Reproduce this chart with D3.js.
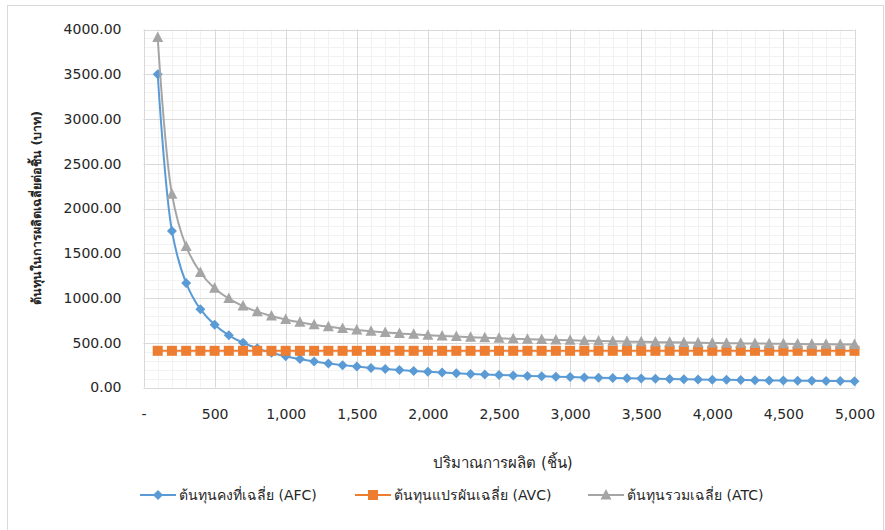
<!DOCTYPE html>
<html><head><meta charset="utf-8">
<script src="https://cdn.jsdelivr.net/npm/d3@7"></script>
<style>body{margin:0;background:#fff}svg{display:block}text{font-family:"DejaVu Sans","Noto Sans",sans-serif;fill:#262626}</style>
</head><body><svg id="c" width="885" height="530"></svg>
<script>
const quantities = [100,200,300,400,500,600,700,800,900,1000,1100,1200,1300,1400,1500,1600,1700,1800,1900,2000,2100,2200,2300,2400,2500,2600,2700,2800,2900,3000,3100,3200,3300,3400,3500,3600,3700,3800,3900,4000,4100,4200,4300,4400,4500,4600,4700,4800,4900,5000];
const afc = [3500,1750,1166.67,875,700,583.33,500,437.5,388.89,350,318.18,291.67,269.23,250,233.33,218.75,205.88,194.44,184.21,175,166.67,159.09,152.17,145.83,140,134.62,129.63,125,120.69,116.67,112.90,109.38,106.06,102.94,100,97.22,94.59,92.11,89.74,87.5,85.37,83.33,81.40,79.55,77.78,76.09,74.47,72.92,71.43,70];
const avc = [410,410,410,410,410,410,410,410,410,410,410,410,410,410,410,410,410,410,410,410,410,410,410,410,410,410,410,410,410,410,410,410,410,410,410,410,410,410,410,410,410,410,410,410,410,410,410,410,410,410];
const atc = [3910,2160,1576.67,1285,1110,993.33,910,847.5,798.89,760,728.18,701.67,679.23,660,643.33,628.75,615.88,604.44,594.21,585,576.67,569.09,562.17,555.83,550,544.62,539.63,535,530.69,526.67,522.90,519.38,516.06,512.94,510,507.22,504.59,502.11,499.74,497.5,495.37,493.33,491.40,489.55,487.78,486.09,484.47,482.92,481.43,480];
const seriesNames = ["ต้นทุนคงที่เฉลี่ย (AFC)","ต้นทุนแปรผันเฉลี่ย (AVC)","ต้นทุนรวมเฉลี่ย (ATC)"];
const xTicks = [0,500,1000,1500,2000,2500,3000,3500,4000,4500,5000];
const yTicks = [0,500,1000,1500,2000,2500,3000,3500,4000];
const xTitle = "ปริมาณการผลิต (ชิ้น)";
const yTitle = "ต้นทุนในการผลิตเฉลี่ยต่อชิ้น (บาท)";

const svg = d3.select("#c");
const L=143.5, R=854.5, T=29.5, B=387.5;
const x = d3.scaleLinear().domain([0,5000]).range([L,R]);
const y = d3.scaleLinear().domain([0,4000]).range([B,T]);

svg.append("rect").attr("x",7.5).attr("y",5.5).attr("width",876).attr("height",530).attr("fill","#fff").attr("stroke","#d9d9d9");

// minor grid
const g = svg.append("g");
g.selectAll(".mx").data(d3.range(0,5001,100)).enter().append("line")
 .attr("x1",d=>Math.round(x(d))+0.5).attr("x2",d=>Math.round(x(d))+0.5).attr("y1",T).attr("y2",B).attr("stroke","#f2f2f2");
g.selectAll(".my").data(d3.range(0,4001,100)).enter().append("line")
 .attr("y1",d=>Math.round(y(d))+0.5).attr("y2",d=>Math.round(y(d))+0.5).attr("x1",L).attr("x2",R).attr("stroke","#f2f2f2");
// major grid
g.selectAll(".Mx").data(xTicks).enter().append("line")
 .attr("x1",d=>Math.round(x(d))+0.5).attr("x2",d=>Math.round(x(d))+0.5).attr("y1",T).attr("y2",B).attr("stroke","#d9d9d9");
g.selectAll(".My").data(yTicks).enter().append("line")
 .attr("y1",d=>Math.round(y(d))+0.5).attr("y2",d=>Math.round(y(d))+0.5).attr("x1",L).attr("x2",R).attr("stroke","#d9d9d9");

// axes
const xa = svg.append("g").attr("transform",`translate(0,${B})`)
 .call(d3.axisBottom(x).tickValues(xTicks).tickSize(0).tickPadding(22).tickFormat(d=>d===0?"-":d3.format(",")(d)));
xa.select(".domain").remove();
xa.selectAll("text").attr("font-size",14).style("font-family","DejaVu Sans").attr("fill","#262626");
const ya = svg.append("g").attr("transform",`translate(${L},0)`)
 .call(d3.axisLeft(y).tickValues(yTicks).tickSize(0).tickPadding(22).tickFormat(d3.format(".2f")));
ya.select(".domain").remove();
ya.selectAll("text").attr("font-size",14).style("font-family","DejaVu Sans").attr("fill","#262626");

// titles
svg.append("text").attr("x",503).attr("y",468).attr("text-anchor","middle").attr("font-size",15).text(xTitle);
svg.append("text").attr("transform","translate(41,208) rotate(-90)").attr("text-anchor","middle").attr("font-size",12.5).attr("font-weight","bold").text(yTitle);

const colors = ["#5b9bd5","#ed7d31","#a5a5a5"];
const data = [afc,avc,atc];
const line = d3.line().x((d,i)=>x(quantities[i])).y(d=>y(d)).curve(d3.curveCatmullRom.alpha(0.5));

function marker(sel, k, cx, cy){
  if(k===0){
    sel.append("path").attr("d",`M${cx},${cy-5}L${cx+5},${cy}L${cx},${cy+5}L${cx-5},${cy}Z`).attr("fill",colors[0]);
  } else if(k===1){
    sel.append("rect").attr("x",cx-5).attr("y",cy-5).attr("width",10).attr("height",10).attr("fill",colors[1]);
  } else {
    sel.append("path").attr("d",`M${cx},${cy-6}L${cx+5.5},${cy+4.5}L${cx-5.5},${cy+4.5}Z`).attr("fill",colors[2]);
  }
}

[0,1,2].forEach(k=>{
  const gs = svg.append("g");
  gs.append("path").attr("d",line(data[k])).attr("fill","none").attr("stroke",colors[k]).attr("stroke-width",2);
  data[k].forEach((v,i)=>marker(gs,k,x(quantities[i]),y(v)));
});

// legend
const legX = [140,355,588];
const legY = 495;
seriesNames.forEach((n,k)=>{
  const lg = svg.append("g");
  lg.append("line").attr("x1",legX[k]).attr("x2",legX[k]+36).attr("y1",legY).attr("y2",legY).attr("stroke",colors[k]).attr("stroke-width",2);
  marker(lg,k,legX[k]+18,legY);
  lg.append("text").attr("x",legX[k]+39).attr("y",legY+5).attr("font-size",14).text(n);
});
</script></body></html>
